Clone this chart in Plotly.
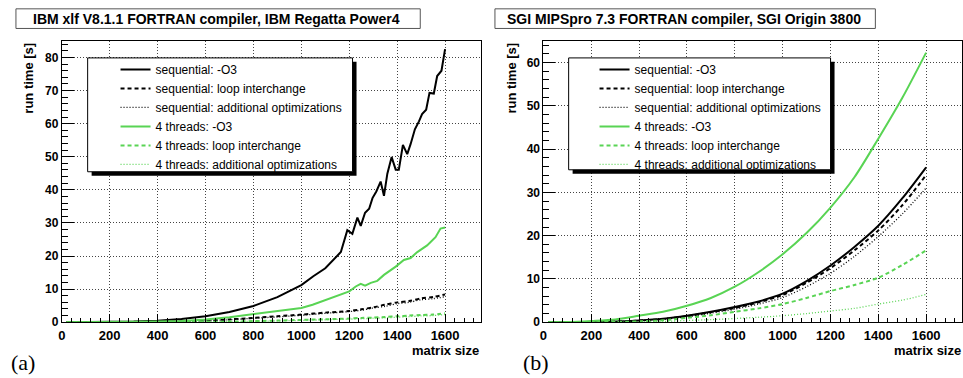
import plotly.graph_objects as go

# ---------------- data: panel (a) IBM xlf, Power4 ----------------
a_seq_o3_x = [20, 100, 200, 300, 400, 500, 600, 700, 800, 900, 1000, 1050, 1100, 1165, 1192,
              1213, 1234, 1248, 1266, 1283, 1297, 1313, 1331, 1345, 1359, 1377, 1394, 1407,
              1424, 1442, 1456, 1474, 1491, 1504, 1521, 1535, 1553, 1567, 1585, 1600]
a_seq_o3_y = [0.0, 0.01, 0.05, 0.2, 0.45, 0.95, 1.8, 3.1, 4.9, 7.6, 11.2, 13.9, 16.3, 21.2, 27.8,
              26.7, 31.6, 29.1, 33.1, 34.3, 37.5, 39.5, 42.5, 38.2, 44.9, 49.9, 46.1, 46.1,
              53.6, 50.8, 53.8, 58.3, 60.7, 62.9, 64.2, 69.3, 69.1, 74.4, 76.0, 82.5]

a_thr_o3_x = [20, 100, 200, 300, 400, 500, 600, 700, 800, 900, 1000, 1047, 1089, 1130, 1200,
              1227, 1248, 1266, 1290, 1317, 1345, 1394, 1428, 1456, 1484, 1525, 1560, 1581, 1600]
a_thr_o3_y = [0.0, 0.0, 0.02, 0.08, 0.2, 0.4, 0.8, 1.5, 2.5, 3.3, 4.3, 5.3, 6.4, 7.6, 9.3,
              10.8, 11.6, 11.05, 11.9, 12.5, 14.3, 16.8, 18.8, 19.4, 21.2, 23.2, 25.7, 28.3, 28.6]

a_x = [20, 100, 200, 300, 400, 500, 600, 700, 800, 900, 1000, 1100, 1200, 1250, 1300,
       1350, 1400, 1450, 1500, 1550, 1600]
a_seq_loop = [0, 0, 0.01, 0.05, 0.12, 0.25, 0.5, 0.85, 1.3, 1.8, 2.3, 2.9, 3.4, 3.9, 4.5,
              5.3, 6.0, 6.4, 7.2, 7.6, 8.4]
a_seq_add = [0, 0, 0.01, 0.04, 0.1, 0.2, 0.45, 0.75, 1.2, 1.6, 2.1, 2.7, 3.2, 3.6, 4.3,
             4.8, 5.6, 6.0, 6.8, 7.1, 7.7]
a_thr_loop = [0, 0, 0, 0.02, 0.04, 0.06, 0.12, 0.2, 0.35, 0.5, 0.7, 0.9, 1.1, 1.3, 1.4,
              1.6, 1.8, 2.0, 2.2, 2.3, 2.7]
a_thr_add = [0, 0, 0, 0.01, 0.03, 0.05, 0.1, 0.17, 0.28, 0.4, 0.55, 0.75, 0.95, 1.05, 1.2,
             1.35, 1.5, 1.7, 1.9, 2.0, 2.3]

# ---------------- data: panel (b) SGI MIPSpro, Origin 3800 ----------------
b_x = [20, 100, 200, 300, 400, 500, 600, 700, 800, 900, 1000, 1100, 1200, 1300, 1400, 1500, 1600]
b_seq_o3 = [0, 0.01, 0.05, 0.15, 0.4, 0.8, 1.5, 2.4, 3.5, 4.8, 6.6, 9.5, 13.1, 17.4, 22.3, 28.6, 35.8]
b_seq_loop = [0, 0.01, 0.05, 0.14, 0.38, 0.75, 1.4, 2.3, 3.3, 4.6, 6.3, 9.1, 12.5, 16.6, 21.2, 27.0, 34.0]
b_seq_add = [0, 0.01, 0.04, 0.12, 0.33, 0.68, 1.25, 2.1, 3.0, 4.2, 5.7, 8.2, 11.3, 15.2, 19.8, 25.0, 31.0]
b_thr_o3 = [0, 0.05, 0.3, 0.65, 1.5, 2.4, 3.8, 5.6, 8.2, 11.6, 15.7, 20.6, 26.5, 33.5, 42.4, 51.8, 62.3]
b_thr_loop = [0, 0, 0.02, 0.07, 0.2, 0.45, 1.0, 1.6, 2.4, 3.2, 4.2, 5.6, 7.2, 8.6, 10.3, 13.2, 16.6]
b_thr_add = [0, 0, 0.01, 0.03, 0.08, 0.18, 0.4, 0.6, 0.85, 1.15, 1.5, 2.0, 2.6, 3.2, 4.2, 5.1, 6.4]

series_names = ["sequential: -O3", "sequential: loop interchange",
                "sequential: additional optimizations", "4 threads: -O3",
                "4 threads: loop interchange", "4 threads: additional optimizations"]
panel_titles = ["IBM xlf V8.1.1 FORTRAN compiler, IBM Regatta Power4",
                "SGI MIPSpro 7.3 FORTRAN compiler, SGI Origin 3800"]
x_ticks = [0, 200, 400, 600, 800, 1000, 1200, 1400, 1600]

# ---------------- styling ----------------
W, H = 963, 378
BLACK = "#000000"
GREEN = "#59d454"
FONT = "Liberation Sans, Arial, Helvetica, sans-serif"
styles = [
    dict(color=BLACK, width=2, dash="solid"),
    dict(color=BLACK, width=2, dash="4px,3px"),
    dict(color=BLACK, width=1.3, dash="1px,2px"),
    dict(color=GREEN, width=2, dash="solid"),
    dict(color=GREEN, width=2, dash="4px,3px"),
    dict(color=GREEN, width=1.3, dash="1px,2px"),
]

def px(x):
    return x / W

def py(y):
    return 1 - y / H

fig = go.Figure()

panel_a = [(a_seq_o3_x, a_seq_o3_y), (a_x, a_seq_loop), (a_x, a_seq_add),
           (a_thr_o3_x, a_thr_o3_y), (a_x, a_thr_loop), (a_x, a_thr_add)]
panel_b = [(b_x, b_seq_o3), (b_x, b_seq_loop), (b_x, b_seq_add),
           (b_x, b_thr_o3), (b_x, b_thr_loop), (b_x, b_thr_add)]

for i, (xs, ys) in enumerate(panel_a):
    ln = dict(styles[i])
    if i not in (0, 3):
        ln.update(shape="spline", smoothing=0.8)
    fig.add_trace(go.Scatter(x=xs, y=ys, mode="lines", name=series_names[i],
                             line=ln, xaxis="x", yaxis="y", legend="legend"))
for i, (xs, ys) in enumerate(panel_b):
    ln = dict(styles[i])
    ln.update(shape="spline", smoothing=0.8)
    fig.add_trace(go.Scatter(x=xs, y=ys, mode="lines", name=series_names[i],
                             line=ln, xaxis="x2", yaxis="y2", legend="legend2"))

ytickfont = dict(family=FONT, size=12, color=BLACK, weight="bold")
xtickfont = dict(family=FONT, size=13, color=BLACK, weight="bold")

def xaxis(domain, anchor):
    return dict(domain=domain, anchor=anchor, range=[0, 1750], tickvals=x_ticks,
                ticks="inside", ticklen=8, tickcolor=BLACK, tickwidth=1,
                minor=dict(dtick=40, tick0=0, ticks="inside", ticklen=4, tickcolor=BLACK,
                           showgrid=False),
                showline=True, linecolor=BLACK, linewidth=1, mirror=True,
                showgrid=True, gridcolor="#444444", griddash="1px,2px", gridwidth=1,
                zeroline=False, tickfont=xtickfont, ticklabelstandoff=1, fixedrange=True)

def yaxis(domain, anchor, top):
    return dict(domain=domain, anchor=anchor, range=[0, top], dtick=10, tick0=0,
                ticks="inside", ticklen=12, tickcolor=BLACK, tickwidth=1,
                minor=dict(dtick=2, tick0=0, ticks="inside", ticklen=6, tickcolor=BLACK,
                           showgrid=False),
                showline=True, linecolor=BLACK, linewidth=1, mirror=True,
                showgrid=True, gridcolor="#444444", griddash="1px,2px", gridwidth=1,
                zeroline=False, tickfont=ytickfont, fixedrange=True)

ydom = [py(328.3), py(41.7)]
legend_common = dict(bgcolor="rgba(0,0,0,0)", borderwidth=0, xanchor="left", yanchor="top",
                     font=dict(family=FONT, size=12, color=BLACK), tracegroupgap=0)

fig.update_layout(
    width=W, height=H, margin=dict(l=0, r=0, t=0, b=0),
    paper_bgcolor="white", plot_bgcolor="white",
    xaxis=xaxis([px(58), px(479)], "y"),
    yaxis=yaxis(ydom, "x", 85),
    xaxis2=xaxis([px(541.7), px(962)], "y2"),
    yaxis2=yaxis(ydom, "x2", 65),
    legend=dict(x=px(112), y=py(56), **legend_common),
    legend2=dict(x=px(593), y=py(56), **legend_common),
    showlegend=True,
)

shapes = []
annotations = []
# legend boxes with shadow
for (x0, y0, x1, y1) in [(84, 59, 350, 175), (567, 59, 830, 173)]:
    shapes.append(dict(type="rect", xref="paper", yref="paper", layer="above",
                       x0=px(x0 + 4), x1=px(x1 + 4), y0=py(y1 + 4), y1=py(y0 + 4),
                       fillcolor=BLACK, line=dict(width=0)))
    shapes.append(dict(type="rect", xref="paper", yref="paper", layer="above",
                       x0=px(x0), x1=px(x1), y0=py(y1), y1=py(y0),
                       fillcolor="white", line=dict(color=BLACK, width=1)))
# title boxes
for (x0, x1), tx, title in [((12, 418), 27, panel_titles[0]), ((493, 875), 503, panel_titles[1])]:
    shapes.append(dict(type="rect", xref="paper", yref="paper", layer="above",
                       x0=px(x0), x1=px(x1), y0=py(29), y1=py(9),
                       fillcolor="white", line=dict(color="#555555", width=1)))
    annotations.append(dict(text=title, xref="paper", yref="paper", x=px(tx), y=py(19),
                            xanchor="left", yanchor="middle", showarrow=False,
                            font=dict(family=FONT, size=14, color=BLACK, weight="bold")))
# axis titles
for xc in [25, 510]:
    annotations.append(dict(text="run time [s]", xref="paper", yref="paper", x=px(xc), y=py(41),
                            xanchor="center", yanchor="top", textangle=-90, showarrow=False,
                            font=dict(family=FONT, size=13, color=BLACK, weight="bold")))
for xr in [479, 963]:
    annotations.append(dict(text="matrix size", xref="paper", yref="paper", x=px(xr), y=py(357),
                            xanchor="right", yanchor="middle", showarrow=False,
                            font=dict(family=FONT, size=13, color=BLACK, weight="bold")))
# panel labels
for xl, lab in [(5, "(a)"), (519, "(b)")]:
    annotations.append(dict(text=lab, xref="paper", yref="paper", x=px(xl), y=py(369),
                            xanchor="left", yanchor="middle", showarrow=False,
                            font=dict(family="Liberation Serif, Times New Roman, serif",
                                      size=22, color=BLACK)))

fig.update_layout(shapes=shapes, annotations=annotations)
fig.write_html("out.html")
